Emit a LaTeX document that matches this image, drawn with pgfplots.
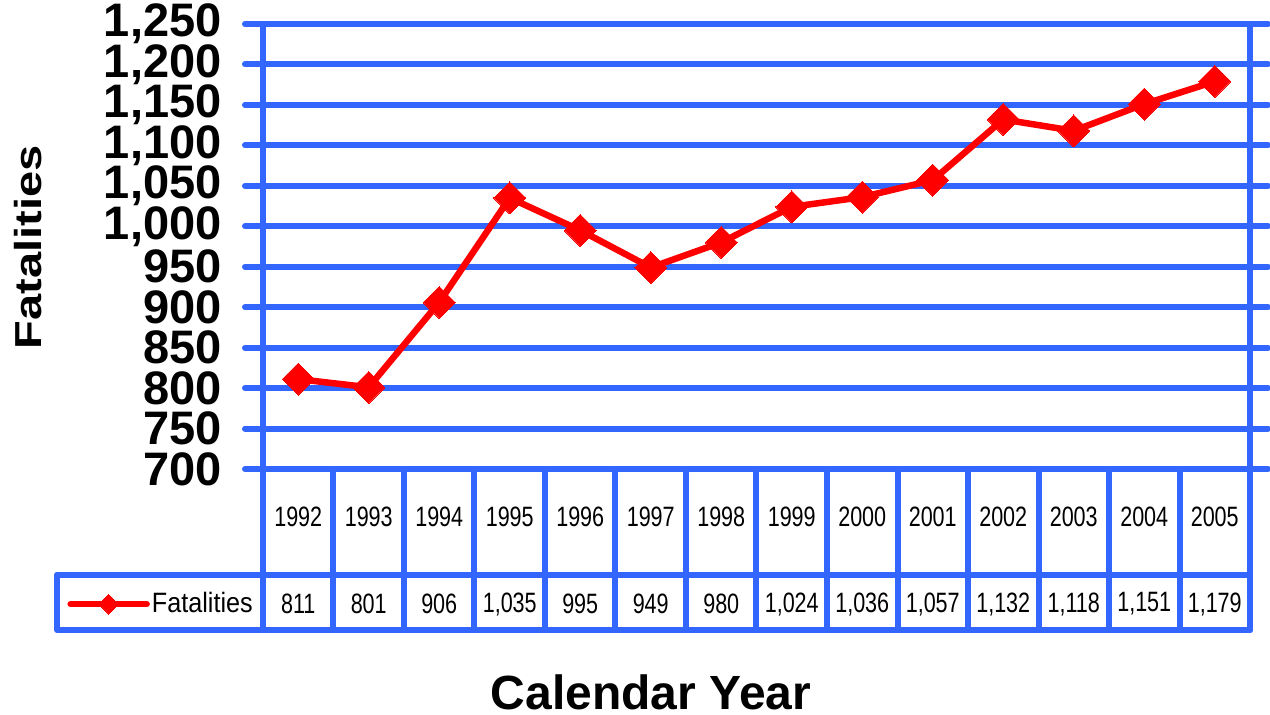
\documentclass[border=0pt]{standalone}
\usepackage{pgfplots}
\pgfplotsset{compat=1.18}
\usepackage{pgfplotstable}
\usepackage{graphicx}
\usepackage{fontspec}
\setmainfont{Liberation Sans}
\newfontfamily\narrow[FakeStretch=0.77]{Liberation Sans}
\newfontfamily\legfont[FakeStretch=0.9]{Liberation Sans}
\definecolor{gblue}{RGB}{51,102,255}

\pgfplotstableread{
idx year val lab
0 1992 811 811
1 1993 801 801
2 1994 906 906
3 1995 1035 1,035
4 1996 995 995
5 1997 949 949
6 1998 980 980
7 1999 1024 1,024
8 2000 1036 1,036
9 2001 1057 1,057
10 2002 1132 1,132
11 2003 1118 1,118
12 2004 1151 1,151
13 2005 1179 1,179
}\datatable

\begin{document}
\begin{tikzpicture}
\useasboundingbox (-131.5pt,-123pt) rectangle (503.5pt,234.5pt);
\begin{axis}[
  scale only axis, width=493.5pt, height=222.5pt,
  xmin=-0.5, xmax=13.5, ymin=700, ymax=1250,
  ytick={700,750,...,1250},
  xtick=\empty,
  clip=false,
  axis line style={gblue, line width=3pt},
  ymajorgrids, major grid style={gblue, line width=3pt},
  tick align=outside, major tick length=9pt,
  ytick style={gblue, line width=3pt, line cap=round},
  yticklabel style={font=\fontsize{23.5}{24}\selectfont\bfseries, inner sep=0pt, xshift=-11.5pt},
  /pgf/number format/1000 sep={,},
  /pgf/number format/assume math mode=true,
  legend style={at={(axis cs:-3.28,533)}, anchor=west, draw=none, fill=none, inner sep=0pt,
    nodes={inner sep=1pt}, font=\legfont\fontsize{14}{16}\selectfont},
  legend image code/.code={\draw[mark repeat=2, mark phase=2, #1, mark size=3.5pt] plot coordinates {(0pt,0pt) (19pt,0pt) (38pt,0pt)};},
]
\addplot[red, line width=3.25pt, line join=round, line cap=round, mark=square*, mark size=5.66pt,
  mark options={rotate=45, line width=0pt, fill=red, draw=red}] table[x=idx, y=val]{\datatable};
\addlegendentry{Fatalities}

\addplot[draw=none, forget plot, point meta=explicit symbolic, nodes near coords,
  nodes near coords style={anchor=center, font=\narrow\fontsize{14}{16}\selectfont, text=black, inner sep=0pt}]
  table[x=idx, y expr=640.7, meta=year]{\datatable};
\addplot[draw=none, forget plot, point meta=explicit symbolic, nodes near coords,
  nodes near coords style={anchor=center, font=\narrow\fontsize{14}{16}\selectfont, text=black, inner sep=0pt}]
  table[x=idx, y expr=533, meta=lab]{\datatable};

\draw[gblue, line width=3pt, line join=round, line cap=round] (axis cs:-3.42,569) -- (axis cs:13.5,569);
\draw[gblue, line width=3pt, line join=round, line cap=round] (axis cs:13.5,501) -- (axis cs:-3.42,501) -- (axis cs:-3.42,569);
\pgfplotsinvokeforeach{-0.5,0.5,1.5,2.5,3.5,4.5,5.5,6.5,7.5,8.5,9.5,10.5,11.5,12.5,13.5}{
  \draw[gblue, line width=3pt, line cap=round] (axis cs:#1,700) -- (axis cs:#1,501);
}
\end{axis}
\node[rotate=90, anchor=base, font=\fontsize{23.5}{24}\selectfont\bfseries] at (-110.5pt,110.75pt) {\scalebox{1}[0.8]{Fatalities}};
\node[anchor=base, font=\fontsize{24}{28}\selectfont\bfseries] at (194pt,-120.5pt) {Calendar Year};
\end{tikzpicture}
\end{document}
